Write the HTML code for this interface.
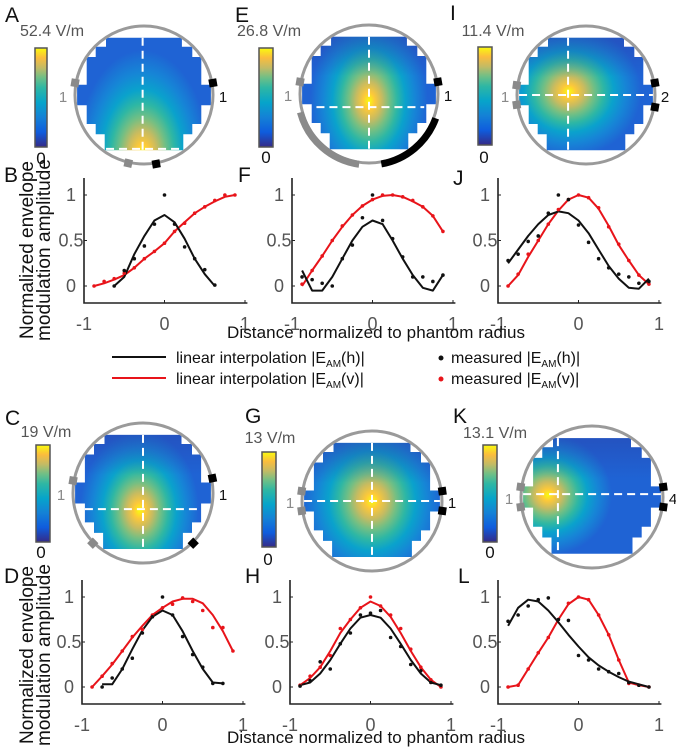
<!DOCTYPE html>
<html><head><meta charset="utf-8"><style>
html,body{margin:0;padding:0;background:#fff}
svg{display:block}
text{font-family:"Liberation Sans",sans-serif}
</style></head><body>
<svg id="fig" xmlns="http://www.w3.org/2000/svg" width="676" height="750" viewBox="0 0 676 750">
<defs>
<linearGradient id="parulaV" x1="0" y1="1" x2="0" y2="0">
<stop offset="0" stop-color="#352a87"/><stop offset="0.15" stop-color="#0f5cdd"/><stop offset="0.3" stop-color="#1481d6"/><stop offset="0.45" stop-color="#06a4ca"/><stop offset="0.6" stop-color="#2eb7a4"/><stop offset="0.7" stop-color="#6ebf87"/><stop offset="0.8" stop-color="#c3bb65"/><stop offset="0.9" stop-color="#fbbc3d"/><stop offset="1" stop-color="#f9fb0e"/>
</linearGradient>
</defs>
<g id="root"></g>
</svg>
<script>
// ---- shared x positions of samples ----
const xs=[-0.875,-0.75,-0.625,-0.5,-0.375,-0.25,-0.125,0,0.125,0.25,0.375,0.5,0.625,0.75,0.875];
const xTicks=[-1,0,1];
const xTickLabels=["-1","0","1"];
const yTicks=[0,0.5,1];
const yTickLabels=["0","0.5","1"];
// ---- panel B ----
const bRedLine=[0,0.03,0.07,0.12,0.2,0.3,0.38,0.47,0.6,0.7,0.8,0.87,0.93,0.98,1.0];
const bRedDots=[0,0.05,0.08,0.14,0.2,0.3,0.38,0.47,0.6,0.69,0.8,0.87,0.94,1.0,1.0];
const bBlackLine=[null,null,0,0.1,0.35,0.55,0.72,0.78,0.7,0.52,0.3,0.13,0.0,null,null];
const bBlackDots=[null,null,0,0.17,0.3,0.44,0.68,1.0,0.68,0.43,0.3,0.18,0.01,null,null];
// ---- panel F ----
const fRedLine=[0,0.17,0.33,0.5,0.65,0.78,0.88,0.95,0.99,1.0,0.98,0.93,0.87,0.77,0.6];
const fRedDots=[0.02,0.17,0.33,0.5,0.66,0.78,0.88,0.95,1.0,1.0,0.98,0.94,0.87,0.77,0.6];
const fBlackLine=[0.17,-0.05,-0.05,0.1,0.3,0.5,0.65,0.72,0.68,0.5,0.3,0.12,-0.02,-0.05,0.12];
const fBlackDots=[0.1,0.07,0.03,0.0,0.3,0.45,0.75,1.0,0.72,0.52,0.32,0.1,0.1,0.05,0.12];
// ---- panel J ----
const jRedLine=[0,0.12,0.32,0.5,0.68,0.83,0.95,1.0,0.97,0.85,0.66,0.45,0.28,0.12,0.02];
const jRedDots=[0,0.13,0.35,0.5,0.68,0.84,0.95,1.0,0.97,0.86,0.65,0.46,0.28,0.12,0.02];
const jBlackLine=[0.25,0.4,0.55,0.68,0.78,0.82,0.8,0.72,0.58,0.4,0.22,0.08,-0.02,-0.03,0.08];
const jBlackDots=[0.28,0.35,0.49,0.55,0.8,1.0,0.95,0.67,0.48,0.3,0.2,0.13,0.1,0.03,0.05];
// ---- panel D ----
const dRedLine=[0,0.12,0.25,0.4,0.55,0.68,0.8,0.88,0.95,0.98,0.98,0.93,0.8,0.62,0.4];
const dRedDots=[0,0.12,0.26,0.4,0.56,0.64,0.8,0.88,0.92,0.99,0.95,0.85,0.66,0.66,0.4];
const dBlackLine=[null,0.03,0.03,0.2,0.42,0.63,0.78,0.85,0.8,0.62,0.4,0.2,0.05,0.04,null];
const dBlackDots=[null,0,0.1,0.2,0.32,0.6,0.78,1.0,0.8,0.56,0.36,0.22,0.04,0.04,null];
// ---- panel H ----
const hRedLine=[0.02,0.1,0.22,0.4,0.6,0.75,0.88,0.95,0.9,0.78,0.6,0.4,0.22,0.08,0.0];
const hRedDots=[0.02,0.12,0.22,0.35,0.65,0.75,0.88,1.0,0.9,0.8,0.65,0.42,0.22,0.08,0.0];
const hBlackLine=[0.02,0.05,0.15,0.3,0.48,0.65,0.77,0.8,0.77,0.65,0.48,0.3,0.15,0.05,0.02];
const hBlackDots=[0.01,0.07,0.28,0.2,0.48,0.6,0.8,0.82,0.85,0.55,0.45,0.25,0.18,0.05,0.02];
// ---- panel L ----
const lRedLine=[0,0.02,0.2,0.38,0.55,0.75,0.92,1.0,0.97,0.8,0.58,0.3,0.05,0.02,0.0];
const lRedDots=[0,0.02,0.2,0.38,0.55,0.75,0.93,1.0,0.97,0.8,0.58,0.3,0.04,0.02,0.0];
const lBlackLine=[0.68,0.88,0.97,0.95,0.85,0.72,0.58,0.45,0.33,0.24,0.17,0.11,0.06,0.03,0.0];
const lBlackDots=[0.73,0.8,0.9,0.97,0.99,0.75,0.74,0.35,0.3,0.2,0.17,0.15,0.05,0.02,0.0];

const NS="http://www.w3.org/2000/svg";
const root=document.getElementById('root');
function mk(tag,attrs,parent){const e=document.createElementNS(NS,tag);for(const k in attrs)e.setAttribute(k,attrs[k]);(parent||root).appendChild(e);return e;}
function txt(s,x,y,size,fill,anchor,parent){const t=mk('text',{x:x,y:y,'font-size':size,fill:fill,'text-anchor':anchor||'start'},parent);t.textContent=s;return t;}

const charts=[
 {n:'b',left:84,y0:286,y1:195,rl:bRedLine,rd:bRedDots,bl:bBlackLine,bd:bBlackDots},
 {n:'f',left:292,y0:286,y1:195,rl:fRedLine,rd:fRedDots,bl:fBlackLine,bd:fBlackDots},
 {n:'j',left:498,y0:286,y1:195,rl:jRedLine,rd:jRedDots,bl:jBlackLine,bd:jBlackDots},
 {n:'d',left:82,y0:687,y1:597,rl:dRedLine,rd:dRedDots,bl:dBlackLine,bd:dBlackDots},
 {n:'h',left:290,y0:687,y1:597,rl:hRedLine,rd:hRedDots,bl:hBlackLine,bd:hBlackDots},
 {n:'l',left:498,y0:687,y1:597,rl:lRedLine,rd:lRedDots,bl:lBlackLine,bd:lBlackDots}
];
charts.forEach(c=>{
  const g=mk('g',{});
  
  
  const ppx=80.5, ppy=c.y0-c.y1;
  const X=v=>c.left+(v+1)*ppx, Y=v=>c.y0-v*ppy;
  const yb=c.y0+17, yt=c.y1-17;
  const ax=mk('path',{d:`M${c.left},${yt}V${yb}H${X(1.03)}`,stroke:'#222','stroke-width':1.6,fill:'none'},g);
  
  
  xTicks.forEach((t,i)=>{
    mk('line',{x1:X(t),x2:X(t),y1:yb,y2:yb-3,stroke:'#222','stroke-width':1},g);
    const l=txt(xTickLabels[i],X(t),yb+27,18,'#555','middle',g);
    
    
  });
  yTicks.forEach((t,i)=>{
    mk('line',{x1:c.left,x2:c.left+3,y1:Y(t),y2:Y(t),stroke:'#222','stroke-width':1},g);
    const l=txt(yTickLabels[i],c.left-13,Y(t)+6,18,'#555','middle',g);
    
    
  });
  function line(arr,col,name){
    let d='';let pen=false;
    arr.forEach((v,i)=>{if(v===null){pen=false;return;}d+=(pen?'L':'M')+X(xs[i]).toFixed(1)+','+Y(v).toFixed(1);pen=true;});
    const p=mk('path',{d:d,stroke:col,'stroke-width':2,fill:'none','stroke-linejoin':'round'},g);
    
    
  }
  function dots(arr,col,name){
    arr.forEach((v,i)=>{if(v===null)return;
      const d=mk('circle',{cx:X(xs[i]),cy:Y(v),r:1.8,fill:col},g);
      
      
    });
  }
  line(c.rl,'#e8141a','interp-v-line');
  line(c.bl,'#111','interp-h-line');
  dots(c.rd,'#e8141a','measured-v-point');
  dots(c.bd,'#111','measured-h-point');
});

// ---- field maps ----
const heatStops=[[0,'#f9fb0e'],[0.1,'#fcc83a'],[0.22,'#c8bb60'],[0.35,'#72bf84'],[0.48,'#2eb7a4'],[0.62,'#0aa2cc'],[0.78,'#1686d6'],[1,'#1f63d4']];
const half=[[0.55,-0.83],[0.55,-0.7],[0.7,-0.7],[0.7,-0.55],[0.83,-0.55],[0.83,-0.15],[0.97,-0.15],[0.97,0.15],[0.83,0.15],[0.83,0.42],[0.7,0.42],[0.7,0.57],[0.57,0.57],[0.57,0.8]];
const maps=[
 {n:'a',cx:144,cy:95,r:69,hx:-0.02,hy:0.85,rx:0.95,ry:1.5,vx:-0.02,hyl:0.78,hx1:-0.55,hx2:0.55,bar:[35,48,12,99],lab:'52.4 V/m',labx:52,laby:36,zx:41,zy:164,
  marks:[[170,'#8a8a8a'],[10,'#000'],[-103,'#8a8a8a'],[-80,'#000']],arcs:[],l:'A',lx:5,ly:22,right:'1'},
 {n:'e',cx:369,cy:94,r:69,hx:0,hy:0.1,rx:0.85,ry:1.25,vx:0,hyl:0.19,hx1:-0.95,hx2:0.8,bar:[259,48,14,99],lab:'26.8 V/m',labx:269,laby:36,zx:266,zy:163,
  marks:[[170,'#8a8a8a'],[10,'#000']],arcs:[[195,262,'#8a8a8a'],[280,340,'#000']],l:'E',lx:235,ly:22,right:'1'},
 {n:'i',cx:586,cy:95,r:69,hx:-0.25,hy:-0.05,rx:1.05,ry:0.95,vx:-0.26,hyl:0,hx1:-0.97,hx2:0.97,bar:[478,47,14,98],lab:'11.4 V/m',labx:493,laby:36,zx:484,zy:163,
  marks:[[172,'#8a8a8a'],[188,'#8a8a8a'],[10,'#000'],[-10,'#000']],arcs:[],l:'I',lx:450,ly:20,right:'2'},
 {n:'c',cx:143,cy:493,r:70,hx:-0.05,hy:0.25,rx:0.85,ry:1.15,vx:0,hyl:0.23,hx1:-0.83,hx2:0.83,bar:[36,445,14,97],lab:'19 V/m',labx:46,laby:437,zx:41,zy:558,
  marks:[[170,'#8a8a8a'],[12,'#000'],[225,'#8a8a8a'],[315,'#000']],arcs:[],l:'C',lx:5,ly:425,right:'1'},
 {n:'g',cx:372,cy:501,r:70,hx:0,hy:0,rx:1.0,ry:1.15,vx:0,hyl:0,hx1:-0.97,hx2:0.97,bar:[262,452,14,95],lab:'13 V/m',labx:270,laby:443,zx:268,zy:565,
  marks:[[172,'#8a8a8a'],[188,'#8a8a8a'],[8,'#000'],[-8,'#000']],arcs:[],l:'G',lx:245,ly:423,right:'1'},
 {n:'k',cx:592,cy:497,r:71,hx:-0.62,hy:-0.03,rx:0.9,ry:0.85,vx:-0.48,hyl:-0.04,hx1:-0.97,hx2:0.97,bar:[483,445,14,97],lab:'13.1 V/m',labx:495,laby:438,zx:490,zy:558,
  marks:[[172,'#8a8a8a'],[188,'#8a8a8a'],[8,'#000'],[-8,'#000']],arcs:[],l:'K',lx:453,ly:423,right:'4'}
];
const defs=document.querySelector('defs');
maps.forEach(m=>{
  const g=mk('g',{});
  
  
  const R=m.r;
  const gr=mk('radialGradient',{id:'hot'+m.n,gradientUnits:'userSpaceOnUse',cx:0,cy:0,r:1,
    gradientTransform:`translate(${m.cx+m.hx*R},${m.cy+m.hy*R}) scale(${m.rx*R},${m.ry*R})`},defs);
  heatStops.forEach(s=>mk('stop',{offset:s[0],'stop-color':s[1]},gr));
  // darker top shading
  const sh=mk('linearGradient',{id:'shade'+m.n,x1:0,y1:0,x2:0,y2:1},defs);
  mk('stop',{offset:0,'stop-color':'#2a3fa8','stop-opacity':0.45},sh);
  mk('stop',{offset:0.35,'stop-color':'#2a3fa8','stop-opacity':0},sh);
  const pts=[];
  half.forEach(p=>pts.push([p[0],p[1]]));
  for(let i=half.length-1;i>=0;i--)pts.push([-half[i][0],half[i][1]]);
  const ptsStr=pts.map(p=>(m.cx+p[0]*R).toFixed(1)+','+(m.cy+p[1]*R).toFixed(1)).join(' ');
  const poly=mk('polygon',{points:ptsStr,fill:'url(#hot'+m.n+')'},g);
  
  
  if(m.n!=='a') mk('polygon',{points:ptsStr,fill:'url(#shade'+m.n+')'},g);
  mk('line',{x1:m.cx+m.vx*R,x2:m.cx+m.vx*R,y1:m.cy-0.83*R,y2:m.cy+0.8*R,stroke:'#fff','stroke-width':2,'stroke-dasharray':'8,5'},g);
  mk('line',{x1:m.cx+m.hx1*R,x2:m.cx+m.hx2*R,y1:m.cy+m.hyl*R,y2:m.cy+m.hyl*R,stroke:'#fff','stroke-width':2,'stroke-dasharray':'8,5'},g);
  const ring=mk('circle',{cx:m.cx,cy:m.cy,r:R,fill:'none',stroke:'#9a9a9a','stroke-width':3},g);
  
  
  m.arcs.forEach(a=>{
    const a1=a[0]*Math.PI/180,a2=a[1]*Math.PI/180,rr=R+2;
    const p1=[m.cx+rr*Math.cos(a1),m.cy-rr*Math.sin(a1)],p2=[m.cx+rr*Math.cos(a2),m.cy-rr*Math.sin(a2)];
    const arc=mk('path',{d:`M${p1[0]},${p1[1]}A${rr},${rr} 0 0 0 ${p2[0]},${p2[1]}`,stroke:a[2],'stroke-width':7,fill:'none'},g);
    
    
  });
  m.marks.forEach(k=>{
    const a=k[0]*Math.PI/180,x=m.cx+(R+1)*Math.cos(a),y=m.cy-(R+1)*Math.sin(a);
    const sq=mk('rect',{x:-4,y:-4,width:8,height:8,fill:k[1],transform:`translate(${x},${y}) rotate(${-k[0]})`},g);
    
    
  });
  txt('1',m.cx-R-12,m.cy+7,15,'#8a8a8a','middle',g);
  const rl=txt(m.right,m.cx+R+10,m.cy+7,15,'#111','middle',g);
  
  
  const b=m.bar;
  const cb=mk('rect',{x:b[0],y:b[1],width:b[2],height:b[3],fill:'url(#parulaV)',stroke:'#555','stroke-width':1.5},g);
  
  
  const ml=txt(m.lab,m.labx,m.laby,16,'#555','middle',g);
  
  
  const zl=txt('0',m.zx,m.zy,17,'#111','middle',g);
  
  
  const pl=txt(m.l,m.lx,m.ly,21,'#111','start',g);
  
  
});
[['B',4,182],['F',238,182],['J',453,185],['D',4,583],['H',245,583],['L',458,583]].forEach(p=>{
  const t=txt(p[0],p[1],p[2],21,'#111');
  
  
});
// y axis titles (rotate(-90): local y -> global x)
[250,655].forEach(cy=>{
  const g=mk('g',{transform:`translate(0,${cy}) rotate(-90)`});
  
  
  const t1=txt('Normalized envelope',0,33,19,'#111','middle',g);
  t1.setAttribute('textLength','178');
  const t2=txt('modulation amplitude',0,50,19,'#111','middle',g);
  t2.setAttribute('textLength','182');
});
[338,743].forEach(y=>{
  const t=txt('Distance normalized to phantom radius',376,y,17,'#111','middle');
  t.setAttribute('textLength','298');
  
  
});
const lg=mk('g',{});


[[357,'#111','h'],[378,'#e8141a','v']].forEach(r=>{
  const y=r[0];
  mk('line',{x1:112,x2:166,y1:y,y2:y,stroke:r[1],'stroke-width':2},lg);
  const t1=mk('text',{x:176,y:y+6,'font-size':16,fill:'#111'},lg);
  t1.innerHTML='linear interpolation  |E<tspan font-size="10" dy="4">AM</tspan><tspan dy="-4">('+r[2]+')|</tspan>';
  
  
  mk('circle',{cx:441,cy:y+1,r:2.5,fill:r[1]},lg);
  const t2=mk('text',{x:451,y:y+6,'font-size':16,fill:'#111'},lg);
  t2.innerHTML='measured |E<tspan font-size="10" dy="4">AM</tspan><tspan dy="-4">('+r[2]+')|</tspan>';
  
  
});
</script>
</body></html>
